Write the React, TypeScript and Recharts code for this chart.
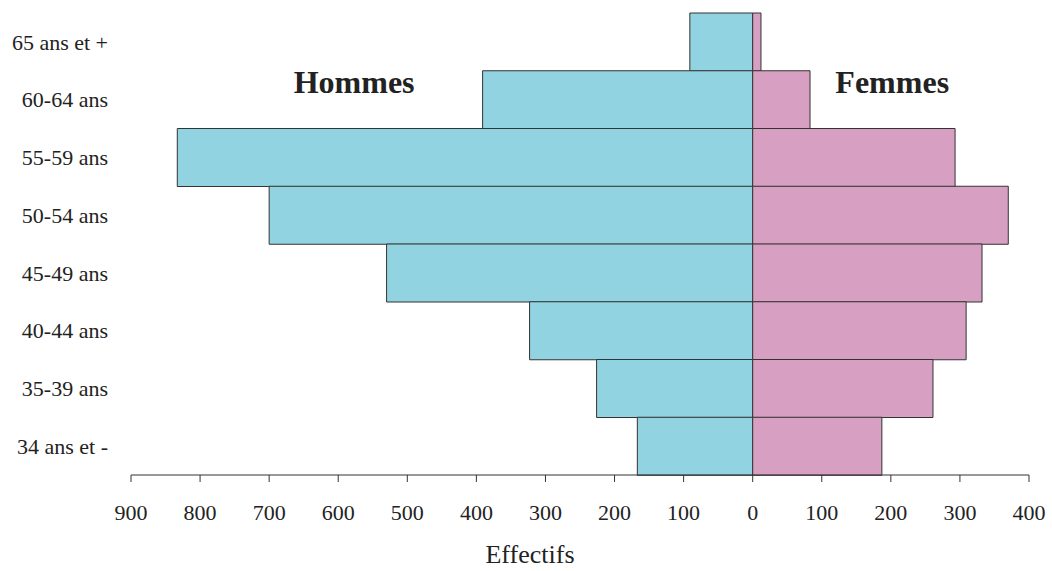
import React from 'react';
import { BarChart, Bar, XAxis, YAxis, ReferenceDot } from 'recharts';

const categories = ['65 ans et +', '60-64 ans', '55-59 ans', '50-54 ans', '45-49 ans', '40-44 ans', '35-39 ans', '34 ans et -'];
const hommes = [91, 391, 833, 700, 530, 323, 226, 167];
const femmes = [12, 83, 293, 370, 332, 309, 261, 187];
const xTicks = [-900, -800, -700, -600, -500, -400, -300, -200, -100, 0, 100, 200, 300, 400];

const data = categories.map((c, i) => ({ cat: c, hommes: -hommes[i], femmes: femmes[i] }));

const FONT = '"Liberation Serif", "Times New Roman", serif';

export default function App() {
  return (
    <div style={{ position: 'absolute', left: 0, top: 0, background: '#fff' }}>
      <BarChart
        width={1052}
        height={571}
        data={data}
        layout="vertical"
        stackOffset="sign"
        barCategoryGap={0}
        margin={{ top: 13, right: 23, bottom: 0, left: 0 }}
      >
        <XAxis
          type="number"
          domain={[-900, 400]}
          ticks={xTicks}
          tickFormatter={(v: number) => String(Math.abs(v))}
          allowDataOverflow
          height={96}
          stroke="#333"
          tickSize={7}
          tickMargin={22}
          tick={{ fill: '#222', fontSize: 22, fontFamily: FONT }}
          label={{ value: 'Effectifs', position: 'insideBottom', offset: 8, dx: -50, fontSize: 26, fontFamily: FONT, fill: '#222' }}
        />
        <YAxis
          type="category"
          dataKey="cat"
          width={131}
          axisLine={false}
          tickLine={false}
          tickSize={0}
          tickMargin={23}
          tick={{ fill: '#222', fontSize: 22, fontFamily: FONT }}
        />
        <Bar dataKey="hommes" stackId="a" fill="#91D3E0" stroke="#333" strokeWidth={1} isAnimationActive={false} />
        <Bar dataKey="femmes" stackId="a" fill="#D7A0C2" stroke="#333" strokeWidth={1} isAnimationActive={false} />
        <ReferenceDot
          x={-577}
          y="60-64 ans"
          r={0}
          fill="none"
          stroke="none"
          label={{ value: 'Hommes', position: 'center', dy: -18, fontSize: 32, fontWeight: 'bold', fontFamily: FONT, fill: '#222' }}
        />
        <ReferenceDot
          x={202}
          y="60-64 ans"
          r={0}
          fill="none"
          stroke="none"
          label={{ value: 'Femmes', position: 'center', dy: -18, fontSize: 32, fontWeight: 'bold', fontFamily: FONT, fill: '#222' }}
        />
      </BarChart>
    </div>
  );
}
